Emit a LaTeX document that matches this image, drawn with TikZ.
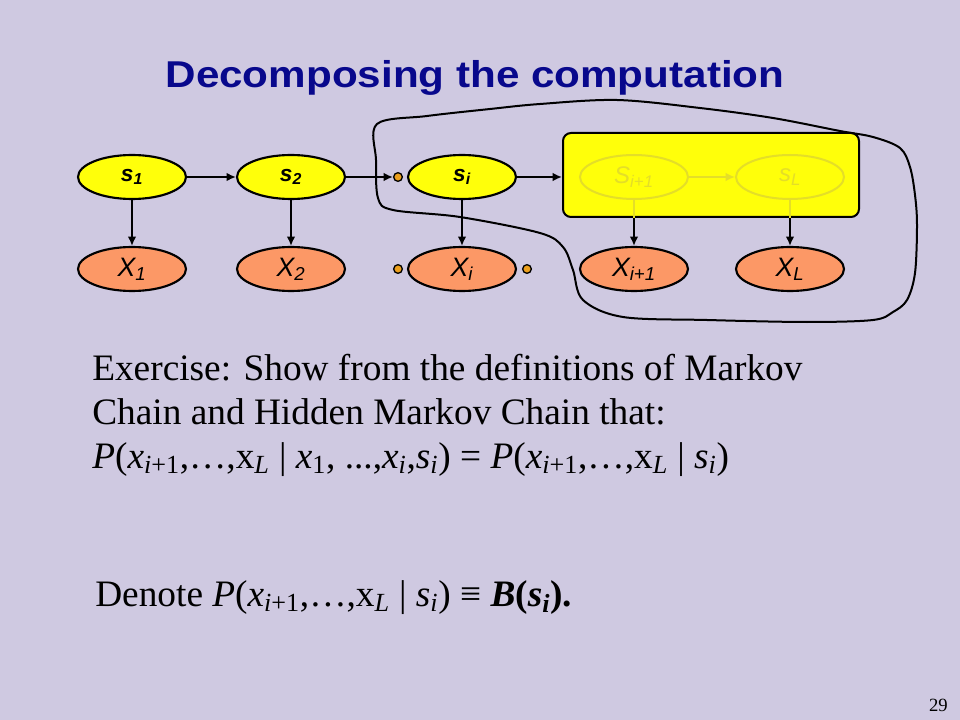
\documentclass[tikz,border=0pt]{standalone}
\usepackage{fontspec}
\setmainfont{Liberation Serif}
\newfontfamily\sansfont{Liberation Sans}
\newfontfamily\titlefont[FakeStretch=1.13]{Liberation Sans}
\usepackage{tikz}
\usetikzlibrary{shapes.geometric, arrows.meta}

\definecolor{slidebg}{RGB}{207,201,225}
\definecolor{titleblue}{RGB}{8,8,140}
\definecolor{hmmyellow}{RGB}{255,255,10}
\definecolor{hmmorange}{RGB}{252,152,102}
\definecolor{dotorange}{RGB}{236,160,30}
\definecolor{fadeyellow}{RGB}{228,222,40}

\begin{document}
\begin{tikzpicture}[x = 0.75pt, y = -0.75pt,
  snode/.style = {ellipse, draw, line width = 1.6pt, fill = hmmyellow,
    minimum width = 81pt, minimum height = 33pt, inner sep = 0pt,
    font = \sansfont\bfseries\itshape\fontsize{17}{17}\selectfont},
  xnode/.style = {ellipse, draw, line width = 1.6pt, fill = hmmorange,
    minimum width = 81pt, minimum height = 33pt, inner sep = 0pt,
    font = \sansfont\itshape\fontsize{20}{20}\selectfont},
  fnode/.style = {ellipse, draw = fadeyellow, line width = 1.5pt,
    text = fadeyellow, minimum width = 81pt, minimum height = 33pt,
    inner sep = 0pt, font = \sansfont\itshape\fontsize{18}{18}\selectfont},
  dot/.style = {circle, draw, line width = 1pt, fill = dotorange,
    minimum size = 6.5pt, inner sep = 0pt},
  edge/.style = {-{Latex[length = 7pt, width = 6.5pt]}, line width = 1.8pt},
  fedge/.style = {-{Latex[length = 7pt, width = 6.5pt]}, line width = 1.8pt,
    color = fadeyellow},
  bodytext/.style = {anchor = base west, inner sep = 0pt,
    font = \fontsize{28}{33}\selectfont}]
\fill[slidebg] (0, 0) rectangle (960, 720);
\useasboundingbox (0, 0) rectangle (960, 720);

\node (title) at (475, 88) [anchor = base, inner sep = 0pt, text = titleblue,
  font = \titlefont\bfseries\fontsize{28}{28}\selectfont] {Decomposing the computation};

% the chain
\node[snode] (s1) at (132, 177) {s\textsubscript{1}};
\node[snode] (s2) at (291, 177) {s\textsubscript{2}};
\node[snode] (si) at (462, 177) {s\textsubscript{i}};
\node[xnode] (x1) at (132, 269) {X\textsubscript{1}};
\node[xnode] (x2) at (291, 269) {X\textsubscript{2}};
\node[xnode] (xi) at (462, 269) {X\textsubscript{i}};
\node[xnode] (xip) at (634, 269) {X\textsubscript{i+1}};
\node[xnode] (xL) at (790, 269) {X\textsubscript{L}};

\node[dot] (dotsi) at (398, 177) {};
\node[dot] (dotxl) at (398, 269) {};
\node[dot] (dotxr) at (527, 269) {};

% the hidden tail
\node (box) at (711, 175) [draw, line width = 1.5pt, fill = hmmyellow,
  rounded corners = 6pt, minimum width = 222pt, minimum height = 63pt] {};
\node[fnode] (sip) at (634, 177) {S\textsubscript{i+1}};
\node[fnode] (sL) at (790, 177) {s\textsubscript{L}};
\coordinate (bip) at (sip |- box.south);
\coordinate (bL) at (sL |- box.south);

\draw[edge] (s1) -- (s2);
\draw[edge] (s2) -- (dotsi);
\draw[edge] (si) -- (si -| box.west);
\draw[fedge] (sip) -- (sL);
\draw[edge] (s1) -- (x1);
\draw[edge] (s2) -- (x2);
\draw[edge] (si) -- (xi);
\draw[line width = 1.8pt, color = fadeyellow] (sip) -- (bip);
\draw[line width = 1.8pt, color = fadeyellow] (sL) -- (bL);
\draw[edge] (bip) -- (xip);
\draw[edge] (bL) -- (xL);

% hand drawn loop
\draw[line width = 1.5pt, line join = round] plot[smooth cycle, tension = 0.55]
  coordinates {(377, 124) (427, 116) (490, 109) (540, 104) (617, 100) (700, 108)
  (773, 118) (840, 131) (873, 137) (900, 148) (910, 167) (915, 195) (917, 225)
  (915, 273) (907, 300) (893, 312) (873, 320) (807, 322) (707, 320) (623, 317)
  (583, 300) (573, 270) (563, 247) (540, 233) (460, 217) (393, 210) (378, 198)
  (376, 160)};

% text
\node[bodytext] (ex1) at (92, 380) {Exercise: Show from the definitions of Markov};
\node[bodytext] (ex2) at (92, 424) {Chain and Hidden Markov Chain that:};
\node[bodytext] (ex3) at (92, 468) {\textit{P}(\textit{x}\textsubscript{\textit{i}+1},…,x\textsubscript{\textit{L}} | \textit{x}\textsubscript{1}, ...,\textit{x}\textsubscript{\textit{i}},\textit{s}\textsubscript{\textit{i}}) = \textit{P}(\textit{x}\textsubscript{\textit{i}+1},…,x\textsubscript{\textit{L}} | \textit{s}\textsubscript{\textit{i}})};
\node[bodytext] (denote) at (95, 606) {Denote \textit{P}(\textit{x}\textsubscript{\textit{i}+1},…,x\textsubscript{\textit{L}} | \textit{s}\textsubscript{\textit{i}}) ≡ \textbf{\textit{B}(\textit{s}\textsubscript{\textit{i}}).}};
\node (page) at (948, 711) [anchor = base east, inner sep = 0pt,
  font = \fontsize{14}{14}\selectfont] {29};
\end{tikzpicture}
\end{document}
